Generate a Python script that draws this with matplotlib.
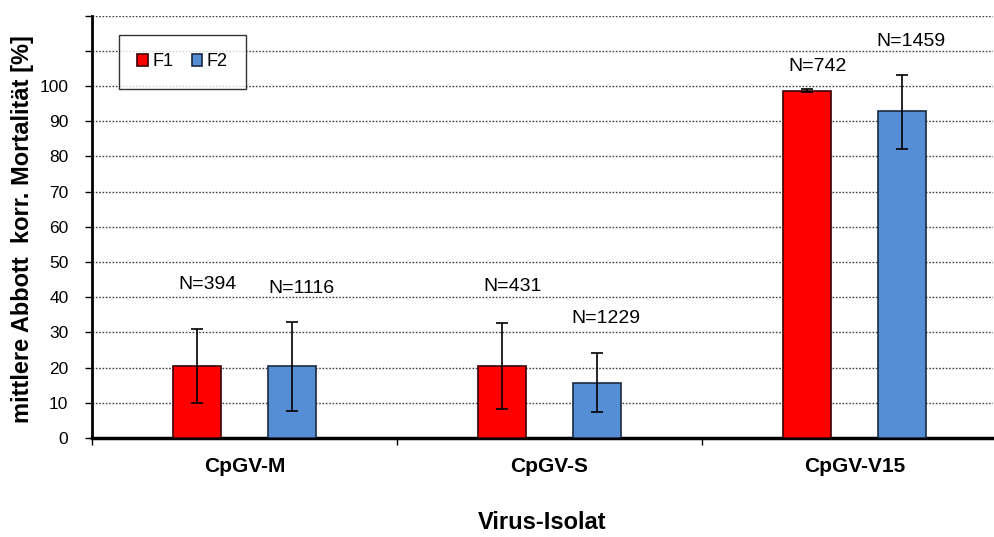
import matplotlib
matplotlib.use("Agg")
import matplotlib.pyplot as plt
import numpy as np

plt.rcParams['font.family'] = ['Liberation Sans', 'DejaVu Sans']

categories = ["CpGV-M", "CpGV-S", "CpGV-V15"]
series_names = ["F1", "F2"]
f1_values = [20.5, 20.5, 98.6]
f2_values = [20.5, 15.7, 93.0]
f1_err_low = [10.0, 8.1, 98.2]
f1_err_high = [30.9, 32.8, 99.0]
f2_err_low = [7.8, 7.3, 82.0]
f2_err_high = [33.0, 24.0, 103.2]
f1_n = ["N=394", "N=431", "N=742"]
f2_n = ["N=1116", "N=1229", "N=1459"]
f1_n_y = [43.5, 43.0, 105.4]
f2_n_y = [42.5, 34.0, 112.5]
y_ticks = [0, 10, 20, 30, 40, 50, 60, 70, 80, 90, 100, 110, 120]
y_tick_labels = ["0", "10", "20", "30", "40", "50", "60", "70", "80", "90", "100", "", ""]

fig = plt.figure(figsize=(9.94, 5.37), dpi=100)
ax = fig.add_axes([0.0926, 0.1844, 0.9064, 0.7866])

x = np.arange(len(categories))
w = 0.157
off = 0.155
f1 = np.array(f1_values); f2 = np.array(f2_values)
ax.bar(x - off, f1, w, color="#ff0000", edgecolor="#3a0000", linewidth=1.2, zorder=3, label=series_names[0])
ax.bar(x + off, f2, w, color="#558ed5", edgecolor="#1a2a40", linewidth=1.2, zorder=3, label=series_names[1])
ax.errorbar(x - off, f1, yerr=[f1 - np.array(f1_err_low), np.array(f1_err_high) - f1],
            fmt="none", ecolor="black", elinewidth=1.2, capsize=4, capthick=1.2, zorder=4)
ax.errorbar(x + off, f2, yerr=[f2 - np.array(f2_err_low), np.array(f2_err_high) - f2],
            fmt="none", ecolor="black", elinewidth=1.2, capsize=4, capthick=1.2, zorder=4)

for i in range(len(categories)):
    ax.text(x[i] - off + 0.035, f1_n_y[i], f1_n[i], ha="center", va="center", fontsize=14)
    ax.text(x[i] + off + 0.03, f2_n_y[i], f2_n[i], ha="center", va="center", fontsize=14)

ax.set_xlim(-0.5, 2.454)
ax.set_ylim(0, 120)
ax.set_yticks(y_ticks)
ax.set_yticklabels(y_tick_labels, fontsize=12.5)
ax.yaxis.grid(True, linestyle=(0, (1.2, 1.2)), color="#444444", linewidth=1.0, zorder=0)
ax.set_axisbelow(True)

ax.set_xticks([-0.5, 0.5, 1.5])
ax.set_xticklabels([])
ax.set_xticks(x, minor=True)
ax.set_xticklabels(categories, minor=True, fontsize=15, fontweight="bold")
ax.tick_params(axis="x", which="minor", length=0, pad=14)
ax.tick_params(axis="x", which="major", length=5, width=1, direction="out")
ax.tick_params(axis="y", length=5, width=1, direction="out", pad=12)

for s in ["top", "right"]:
    ax.spines[s].set_visible(False)
ax.spines["left"].set_linewidth(2)
ax.spines["bottom"].set_linewidth(2.5)

ax.set_xlabel("Virus-Isolat", fontsize=17, fontweight="bold")
ax.xaxis.set_label_coords(0.5, -0.172)
ax.set_ylabel("mittlere Abbott  korr. Mortalität [%]", fontsize=17, fontweight="bold")
ax.yaxis.set_label_coords(-0.064, 0.495)

leg = ax.legend(loc="upper left", bbox_to_anchor=(0.030, 0.953), ncol=2, fontsize=13,
                frameon=True, fancybox=False, edgecolor="black", handlelength=0.6,
                handleheight=0.6, handletextpad=0.25, columnspacing=1.0, borderpad=1.0,
                borderaxespad=0)
leg.get_frame().set_linewidth(1.0)

fig.savefig("out.png", dpi=100)
